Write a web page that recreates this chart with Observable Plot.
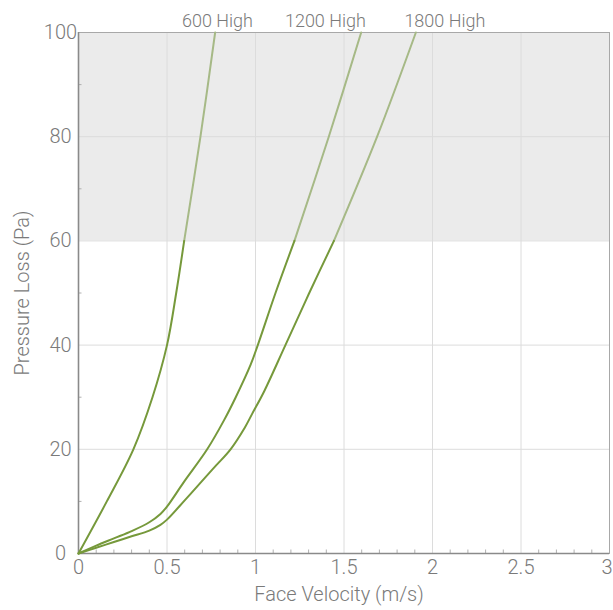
<!DOCTYPE html>
<html>
<head>
<meta charset="utf-8">
<script src="https://cdn.jsdelivr.net/npm/d3@7"></script>
<script src="https://cdn.jsdelivr.net/npm/@observablehq/plot@0.6"></script>
<style>
  html, body { margin: 0; padding: 0; background: #fff; }
  #chart { width: 613px; height: 610px; }
  svg { font-family: Roboto, "Liberation Sans", sans-serif; font-weight: 300; }
</style>
</head>
<body>
<div id="chart"></div>
<script>
// ---- data ----
const seriesNames = ["600 High", "1200 High", "1800 High"];

const v600 = [0, 0.16, 0.31, 0.418, 0.5, 0.552, 0.597, 0.689, 0.772];
const p600 = [0, 10, 20, 30, 40, 50, 60, 80, 100];

const v1200 = [0, 0.1, 0.2, 0.3, 0.4, 0.463, 0.5, 0.593, 0.727, 0.821, 0.887, 0.972, 1.013, 1.113, 1.22, 1.414, 1.597];
const p1200 = [0, 1.5, 2.9, 4.3, 6.0, 7.6, 9.0, 13.6, 20, 25.5, 29.9, 36.2, 40, 50, 60, 80, 100];

const v1800 = [0, 0.1, 0.2, 0.3, 0.4, 0.463, 0.5, 0.6, 0.7, 0.78, 0.859, 0.94, 0.981, 1.05, 1.169, 1.301, 1.443, 1.687, 1.906];
const p1800 = [0, 1.1, 2.2, 3.3, 4.4, 5.5, 6.5, 10.2, 14, 17, 20, 24.2, 26.8, 31.2, 40, 49.8, 60, 80, 100];

const labelX = [0.785, 1.395, 2.07];   // label centres (m/s) at the top of the chart

const xTicks = [0, 0.5, 1, 1.5, 2, 2.5, 3];
const xTickLabels = ["0", "0.5", "1", "1.5", "2", "2.5", "3"];
const yTicks = [0, 20, 40, 60, 80, 100];
const xMinor = d3.range(1, 30).map(i => i / 10).filter(v => Math.abs(v * 2 - Math.round(v * 2)) > 1e-9);
const yMinor = [10, 30, 50, 70, 90];
const shadeRange = [60, 100];
const xDomain = [0, 3];
const yDomain = [0, 100];

// ---- build tables ----
const seriesV = [v600, v1200, v1800];
const seriesP = [p600, p1200, p1800];
const points = [];
seriesNames.forEach((name, i) => {
  seriesV[i].forEach((v, j) => points.push({series: name, v, p: seriesP[i][j]}));
});
const threshold = shadeRange[0];
const lower = points.filter(d => d.p <= threshold);
const upper = points.filter(d => d.p >= threshold);
const labels = seriesNames.map((name, i) => ({name, x: labelX[i], y: yDomain[1]}));
const xLabelTable = xTicks.map((t, i) => ({t, label: xTickLabels[i]}));
const xLabelsInner = xLabelTable.slice(0, -1);
const xLabelLast = xLabelTable.slice(-1);

const W = 613, H = 610;
const mL = 78, mR = 4, mT = 32, mB = 57;
const tickLenY = (yDomain[1] - yDomain[0]) * 3.5 / (H - mT - mB);
const tickLenX = (xDomain[1] - xDomain[0]) * 3.5 / (W - mL - mR);

const textColor = "#7a7a7a";

const chart = Plot.plot({
  width: W,
  height: H,
  marginLeft: mL,
  marginRight: mR,
  marginTop: mT,
  marginBottom: mB,
  style: {fontFamily: "Roboto, 'Liberation Sans', sans-serif", color: textColor, background: "#fff"},
  x: {domain: xDomain, axis: null},
  y: {domain: yDomain, axis: null},
  marks: [
    Plot.rect([shadeRange], {x1: xDomain[0], x2: xDomain[1], y1: d => d[0], y2: d => d[1], fill: "#ebebeb"}),
    Plot.ruleX(xTicks.slice(1), {stroke: "#dcdcdc", strokeWidth: 1}),
    Plot.ruleY(yTicks.slice(1), {stroke: "#dcdcdc", strokeWidth: 1}),
    Plot.ruleX(xMinor, {y1: yDomain[0], y2: tickLenY, stroke: "#b0b0b0", strokeWidth: 1}),
    Plot.ruleY(yMinor, {x1: xDomain[0], x2: tickLenX, stroke: "#b0b0b0", strokeWidth: 1}),
    Plot.frame({stroke: "#a8a8a8", strokeWidth: 1}),
    Plot.ruleX([xDomain[0]], {stroke: "#8a8a8a", strokeWidth: 1.6}),
    Plot.ruleY([yDomain[0]], {stroke: "#8a8a8a", strokeWidth: 1.6}),
    Plot.line(upper, {x: "v", y: "p", z: "series", stroke: "#a6b986", strokeWidth: 2, curve: "catmull-rom"}),
    Plot.line(lower, {x: "v", y: "p", z: "series", stroke: "#76993b", strokeWidth: 2, curve: "catmull-rom"}),
    Plot.text(xLabelsInner, {x: "t", y: yDomain[0], text: "label", lineAnchor: "top", dy: 6, fontSize: 20, fill: textColor}),
    Plot.text(xLabelLast, {x: "t", y: yDomain[0], text: "label", lineAnchor: "top", textAnchor: "end", dx: 3, dy: 6, fontSize: 20, fill: textColor}),
    Plot.axisY(yTicks, {
      tickSize: 0, tickPadding: 18, fontSize: 20, fill: textColor, textAnchor: "middle",
      label: null
    }),
    Plot.text(labels, {x: "x", y: "y", text: "name", dy: -11, fontSize: 18, fill: textColor}),
    Plot.text(["Face Velocity (m/s)"], {frameAnchor: "bottom", dx: -5, dy: 47, fontSize: 20, fill: textColor}),
    Plot.text(["Pressure Loss (Pa)"], {frameAnchor: "left", dx: -56, rotate: -90, textAnchor: "middle", fontSize: 20, fill: textColor})
  ]
});
document.getElementById("chart").appendChild(chart);
</script>
</body>
</html>
